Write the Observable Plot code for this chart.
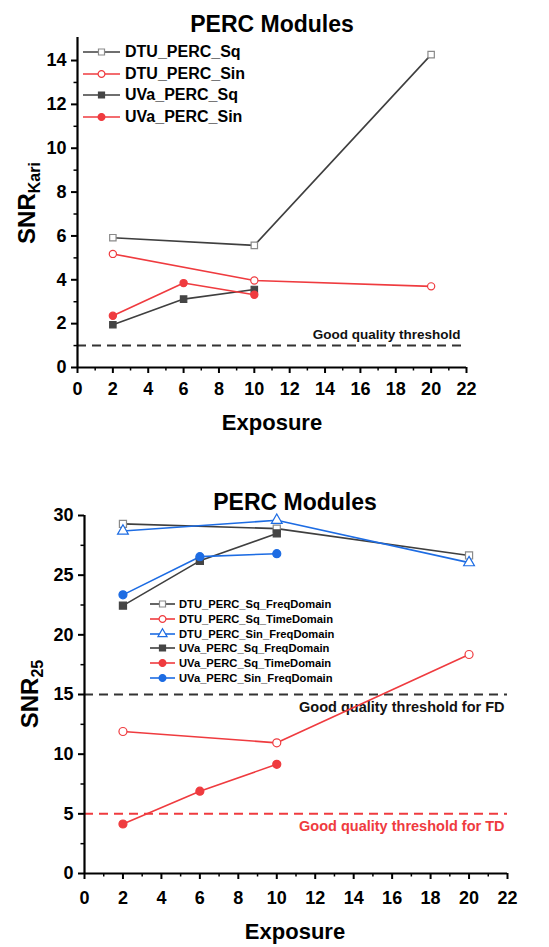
<!DOCTYPE html>
<html>
<head>
<meta charset="utf-8">
<script src="https://cdn.jsdelivr.net/npm/d3@7"></script>
<script src="https://cdn.jsdelivr.net/npm/@observablehq/plot@0.6"></script>
<style>
  html, body { margin: 0; padding: 0; background: #fff; }
  #wrap { position: relative; width: 549px; height: 947px; font-family: "Liberation Sans", Arial, sans-serif; font-weight: bold; color: #000; }
  .abs { position: absolute; white-space: nowrap; }
  .title { font-size: 23px; transform: translate(-50%, -50%); }
  .xlab { font-size: 22px; transform: translate(-50%, -50%); }
  .ylab { font-size: 24px; transform: translate(-50%, -50%) rotate(-90deg); }
  .ylab sub { font-size: 16px; vertical-align: -5px; }
  .leg { display: flex; align-items: center; }
  .leg svg { display: block; }
</style>
</head>
<body>
<div id="wrap"></div>
<script>
// ---------- DATA ----------
const exposureDTU = [2, 10, 20];
const exposureUVa = [2, 6, 10];
const xTickValues = [0, 2, 4, 6, 8, 10, 12, 14, 16, 18, 20, 22];

// Top chart: SNR_Kari
const kari_DTU_PERC_Sq  = [5.92, 5.57, 14.27];
const kari_DTU_PERC_Sin = [5.18, 3.97, 3.70];
const kari_UVa_PERC_Sq  = [1.95, 3.12, 3.56];
const kari_UVa_PERC_Sin = [2.36, 3.85, 3.32];
const kariThreshold = 1;
const kariThresholdLabel = "Good quality threshold";
const kariYTicks = [0, 2, 4, 6, 8, 10, 12, 14];

// Bottom chart: SNR_25
const snr_DTU_PERC_Sq_FreqDomain  = [29.3, 28.9, 26.65];
const snr_DTU_PERC_Sq_TimeDomain  = [11.9, 10.95, 18.35];
const snr_DTU_PERC_Sin_FreqDomain = [28.7, 29.6, 26.05];
const snr_UVa_PERC_Sq_FreqDomain  = [22.45, 26.2, 28.5];
const snr_UVa_PERC_Sq_TimeDomain  = [4.15, 6.9, 9.15];
const snr_UVa_PERC_Sin_FreqDomain = [23.35, 26.55, 26.8];
const fdThreshold = 15, fdThresholdLabel = "Good quality threshold for FD";
const tdThreshold = 5,  tdThresholdLabel = "Good quality threshold for TD";
const snrYTicks = [0, 5, 10, 15, 20, 25, 30];

// ---------- STYLES ----------
const GRAY_LINE = "#3f3f3f", GRAY_OPEN = "#8a8a8a", GRAY_FILL = "#454545";
const RED = "#ef3b3f", BLUE = "#1d6ce3";
const FONT = "'Liberation Sans', Arial, sans-serif";

const topSeries = [
  {name: "DTU_PERC_Sq",  xs: exposureDTU, ys: kari_DTU_PERC_Sq,  line: GRAY_LINE, mark: GRAY_OPEN, symbol: "square", filled: false},
  {name: "DTU_PERC_Sin", xs: exposureDTU, ys: kari_DTU_PERC_Sin, line: RED, mark: RED, symbol: "circle", filled: false},
  {name: "UVa_PERC_Sq",  xs: exposureUVa, ys: kari_UVa_PERC_Sq,  line: GRAY_LINE, mark: GRAY_FILL, symbol: "square", filled: true},
  {name: "UVa_PERC_Sin", xs: exposureUVa, ys: kari_UVa_PERC_Sin, line: RED, mark: RED, symbol: "circle", filled: true}
];
const botSeries = [
  {name: "DTU_PERC_Sq_FreqDomain",  xs: exposureDTU, ys: snr_DTU_PERC_Sq_FreqDomain,  line: GRAY_LINE, mark: GRAY_OPEN, symbol: "square", filled: false},
  {name: "DTU_PERC_Sq_TimeDomain",  xs: exposureDTU, ys: snr_DTU_PERC_Sq_TimeDomain,  line: RED, mark: RED, symbol: "circle", filled: false},
  {name: "DTU_PERC_Sin_FreqDomain", xs: exposureDTU, ys: snr_DTU_PERC_Sin_FreqDomain, line: BLUE, mark: BLUE, symbol: "triangle", filled: false},
  {name: "UVa_PERC_Sq_FreqDomain",  xs: exposureUVa, ys: snr_UVa_PERC_Sq_FreqDomain,  line: GRAY_LINE, mark: GRAY_FILL, symbol: "square", filled: true},
  {name: "UVa_PERC_Sq_TimeDomain",  xs: exposureUVa, ys: snr_UVa_PERC_Sq_TimeDomain,  line: RED, mark: RED, symbol: "circle", filled: true},
  {name: "UVa_PERC_Sin_FreqDomain", xs: exposureUVa, ys: snr_UVa_PERC_Sin_FreqDomain, line: BLUE, mark: BLUE, symbol: "circle", filled: true}
];

function rows(s) { return s.xs.map((x, i) => ({x, y: s.ys[i]})); }

function seriesMarks(series, r) {
  const marks = [];
  for (const s of series) {
    marks.push(Plot.line(rows(s), {x: "x", y: "y", stroke: s.line, strokeWidth: 1.6}));
  }
  for (const s of series) {
    marks.push(Plot.dot(rows(s), {x: "x", y: "y", symbol: s.symbol, r,
      fill: s.filled ? s.mark : "white", stroke: s.mark, strokeWidth: 1.2}));
  }
  return marks;
}

function axes(yTicks, yMinor, fontSize, xPad) {
  const xMinor = d3.range(1, 22, 2);
  return [
    Plot.axisX(xTickValues, {label: null, tickSize: 6, tickPadding: xPad, fontSize, fontWeight: "bold", strokeWidth: 2}),
    Plot.axisX(xMinor, {label: null, tickSize: 3.5, tickFormat: () => "", strokeWidth: 1.5}),
    Plot.axisY(yTicks, {label: null, tickSize: 6, tickPadding: 5, fontSize, fontWeight: "bold", strokeWidth: 2}),
    Plot.axisY(yMinor, {label: null, tickSize: 3.5, tickFormat: () => "", strokeWidth: 1.5}),
    Plot.ruleY([0], {stroke: "#000", strokeWidth: 2.2}),
    Plot.ruleX([0], {stroke: "#000", strokeWidth: 2.2})
  ];
}

const wrap = document.getElementById("wrap");

// ---------- TOP CHART ----------
const topPlot = Plot.plot({
  width: 549, height: 445,
  marginLeft: 77, marginRight: 83, marginTop: 37, marginBottom: 78,
  x: {domain: [0, 22], label: null},
  y: {domain: [0, 15.05], label: null},
  style: {fontFamily: FONT, background: "transparent", overflow: "visible"},
  marks: [
    Plot.ruleY([kariThreshold], {stroke: "#333", strokeWidth: 2, strokeDasharray: "9,6"}),
    Plot.text([kariThresholdLabel], {y: () => kariThreshold, frameAnchor: "right", text: d => d, textAnchor: "end", dx: -6, dy: -10.5, fontSize: 13.5, fontWeight: "bold", fill: "#111"}),
    ...seriesMarks(topSeries, 3.6),
    ...axes(kariYTicks, d3.range(1, 15, 2), 18, 9)
  ]
});
topPlot.style.position = "absolute";
topPlot.style.left = "0px";
topPlot.style.top = "0px";
wrap.appendChild(topPlot);

// ---------- BOTTOM CHART ----------
const botPlot = Plot.plot({
  width: 549, height: 502,
  marginLeft: 84, marginRight: 42, marginTop: 70, marginBottom: 74,
  x: {domain: [0, 22], label: null},
  y: {domain: [0, 30], label: null},
  style: {fontFamily: FONT, background: "transparent", overflow: "visible"},
  marks: [
    Plot.ruleY([fdThreshold], {stroke: "#333", strokeWidth: 2, strokeDasharray: "9,6"}),
    Plot.ruleY([tdThreshold], {stroke: RED, strokeWidth: 2, strokeDasharray: "9,6"}),
    Plot.text([fdThresholdLabel], {y: () => fdThreshold, frameAnchor: "right", text: d => d, textAnchor: "end", dx: -3, dy: 13, fontSize: 14.5, fontWeight: "bold", fill: "#111"}),
    Plot.text([tdThresholdLabel], {y: () => tdThreshold, frameAnchor: "right", text: d => d, textAnchor: "end", dx: -3, dy: 13, fontSize: 14.5, fontWeight: "bold", fill: RED}),
    ...seriesMarks(botSeries, 4),
    ...axes(snrYTicks, [2.5, 7.5, 12.5, 17.5, 22.5, 27.5], 18, 12)
  ]
});
botPlot.style.position = "absolute";
botPlot.style.left = "0px";
botPlot.style.top = "445px";
wrap.appendChild(botPlot);

// ---------- TEXT (titles / axis labels) ----------
function addDiv(cls, html, x, y) {
  const d = document.createElement("div");
  d.className = "abs " + cls;
  d.innerHTML = html;
  d.style.left = x + "px";
  d.style.top = y + "px";
  wrap.appendChild(d);
}
addDiv("title", "PERC Modules", 272, 24);
addDiv("xlab", "Exposure", 272, 423);
addDiv("ylab", "SNR<sub>Kari</sub>", 28, 203);
addDiv("title", "PERC Modules", 295, 502);
addDiv("xlab", "Exposure", 295, 932);
addDiv("ylab", "SNR<sub>25</sub>", 31, 694);

// ---------- LEGENDS ----------
function legend(series, left, top0, step, lineW, r, fontSize, gap) {
  series.forEach((s, i) => {
    const row = document.createElement("div");
    row.className = "abs leg";
    row.style.left = left + "px";
    row.style.top = (top0 + i * step - 8) + "px";
    row.style.height = "16px";
    row.style.fontSize = fontSize + "px";
    const svg = d3.create("svg").attr("width", lineW).attr("height", 16);
    svg.append("line").attr("x1", 0).attr("x2", lineW).attr("y1", 8).attr("y2", 8)
      .attr("stroke", s.line).attr("stroke-width", 1.6);
    const sym = {square: d3.symbolSquare, circle: d3.symbolCircle, triangle: d3.symbolTriangle}[s.symbol];
    svg.append("path").attr("d", d3.symbol(sym, Math.PI * r * r)())
      .attr("transform", `translate(${lineW / 2},8)`)
      .attr("fill", s.filled ? s.mark : "white").attr("stroke", s.mark).attr("stroke-width", 1.2);
    row.appendChild(svg.node());
    const t = document.createElement("span");
    t.textContent = s.name;
    t.style.marginLeft = gap + "px";
    row.appendChild(t);
    wrap.appendChild(row);
  });
}
legend(topSeries, 83, 52, 21.7, 37, 3.4, 16, 5);
legend(botSeries, 150, 604, 14.8, 25, 3.4, 11.2, 4);
</script>
</body>
</html>
